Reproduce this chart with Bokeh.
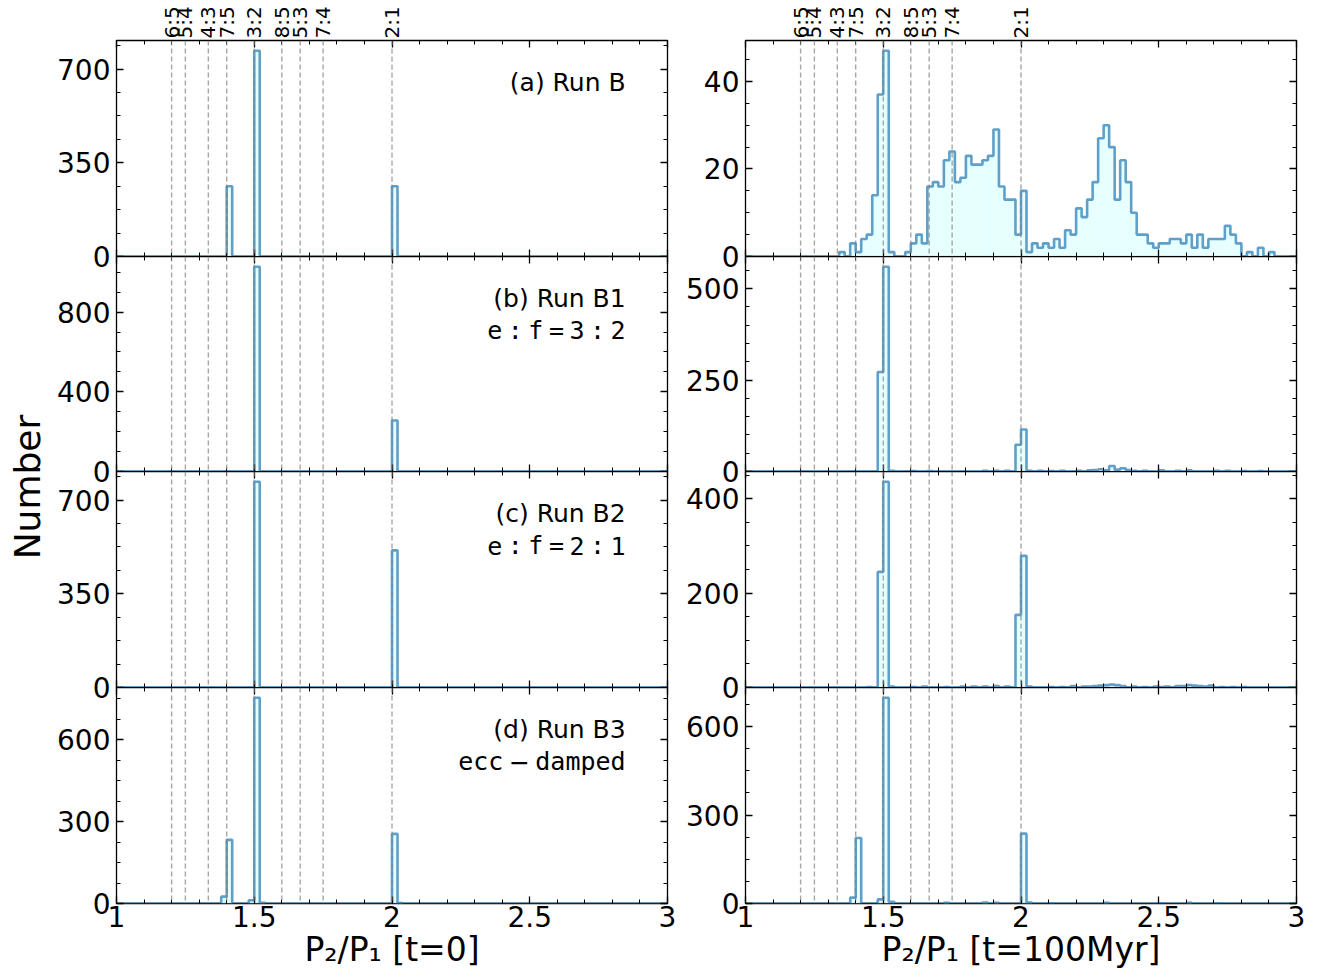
import math
import numpy as np
from bokeh.plotting import figure
from bokeh.models import (Range1d, LinearAxis, FixedTicker, Span, Label,
                          CustomJSTickFormatter)
from bokeh.layouts import row, column
from bokeh.embed import file_html
from bokeh.resources import INLINE

# ---------------- data ----------------
BIN_WIDTH = 0.02
X_START, X_END = 1.0, 3.0

resonance_values = [6 / 5, 5 / 4, 4 / 3, 7 / 5, 3 / 2, 8 / 5, 5 / 3, 7 / 4, 2 / 1]
resonance_labels = ["6:5", "5:4", "4:3", "7:5", "3:2", "8:5", "5:3", "7:4", "2:1"]

x_major_ticks = [1.0, 1.5, 2.0, 2.5, 3.0]
x_minor_ticks = [round(1.0 + 0.1 * i, 1) for i in range(21)]
x_labels = ["P\u2082/P\u2081 [t=0]", "P\u2082/P\u2081 [t=100Myr]"]
y_label = "Number"

# left column (t = 0): left edge of each occupied bin and its count
runB_t0_bins = [1.40, 1.50, 2.00]
runB_t0_counts = [262, 768, 262]
runB1_t0_bins = [1.50, 2.00]
runB1_t0_counts = [1028, 256]
runB2_t0_bins = [1.50, 2.00]
runB2_t0_counts = [768, 512]
runB3_t0_bins = [1.38, 1.40, 1.48, 1.50, 1.52, 2.00, 2.02]
runB3_t0_counts = [25, 233, 12, 753, 3, 255, 2]

# right column (t = 100 Myr)
runB_t100_bins = [1.34, 1.38, 1.40, 1.42, 1.44, 1.46, 1.48, 1.50, 1.52, 1.58,
                  1.60, 1.62, 1.64, 1.66, 1.68, 1.70, 1.72, 1.74, 1.76, 1.78,
                  1.80, 1.82, 1.84, 1.86, 1.88, 1.90, 1.92, 1.94, 1.96, 1.98,
                  2.00, 2.02, 2.04, 2.06, 2.08, 2.10, 2.12, 2.14, 2.16, 2.18,
                  2.20, 2.22, 2.24, 2.26, 2.28, 2.30, 2.32, 2.34, 2.36, 2.38,
                  2.40, 2.42, 2.44, 2.46, 2.48, 2.50, 2.52, 2.54, 2.56, 2.58,
                  2.60, 2.62, 2.64, 2.66, 2.68, 2.70, 2.72, 2.74, 2.76, 2.78,
                  2.82, 2.86, 2.90]
runB_t100_counts = [1, 3, 1, 4, 5, 14, 37, 47, 1, 1,
                    3, 5, 3, 16, 17, 16, 22, 24, 17, 18,
                    23, 21, 21, 22, 23, 29, 16, 13, 13, 5,
                    15, 1, 3, 2, 3, 2, 4, 2, 6, 5,
                    11, 9, 13, 17, 27, 30, 25, 13, 22, 17,
                    10, 5, 5, 3, 2, 3, 3, 4, 4, 3,
                    5, 2, 5, 2, 4, 4, 4, 7, 5, 3,
                    1, 2, 1]
runB1_t100_bins = [1.48, 1.50, 1.52, 1.60, 1.66, 1.86, 1.90, 1.94, 1.98, 2.00,
                   2.02, 2.06, 2.10, 2.14, 2.20, 2.24, 2.26, 2.28, 2.30, 2.32,
                   2.34, 2.36, 2.38, 2.40, 2.44, 2.50, 2.56, 2.60, 2.70, 2.74,
                   2.80, 2.86]
runB1_t100_counts = [272, 560, 2, 1, 1, 2, 2, 2, 73, 115,
                     2, 2, 1, 2, 2, 3, 4, 6, 3, 15,
                     5, 9, 4, 2, 2, 3, 2, 3, 2, 2,
                     1, 1]
runB2_t100_bins = [1.44, 1.48, 1.50, 1.52, 1.60, 1.64, 1.72, 1.78, 1.82, 1.86,
                   1.90, 1.94, 1.98, 2.00, 2.02, 2.10, 2.14, 2.18, 2.22, 2.24,
                   2.26, 2.28, 2.30, 2.32, 2.34, 2.36, 2.40, 2.44, 2.48, 2.50,
                   2.52, 2.56, 2.58, 2.60, 2.62, 2.64, 2.66, 2.68, 2.72, 2.76,
                   2.80]
runB2_t100_counts = [1, 245, 436, 2, 1, 2, 1, 2, 2, 2,
                     3, 2, 154, 279, 2, 1, 1, 3, 2, 2,
                     3, 4, 5, 6, 5, 3, 2, 1, 2, 1,
                     2, 3, 3, 5, 4, 3, 2, 4, 1, 1,
                     1]
runB3_t100_bins = [1.38, 1.40, 1.48, 1.50, 1.52, 1.72, 1.86, 1.90, 2.00, 2.02,
                   2.10, 2.30, 2.50, 2.60, 2.70]
runB3_t100_counts = [20, 222, 14, 698, 6, 2, 3, 2, 237, 3,
                     1, 2, 1, 2, 1]

panels = [
    # (column, row, bins, counts, y major ticks, y minor step, annotation lines)
    (0, 0, runB_t0_bins, runB_t0_counts, [0, 350, 700], 87.5, ["(a) Run B"]),
    (0, 1, runB1_t0_bins, runB1_t0_counts, [0, 400, 800], 100, ["(b) Run B1", "e : f = 3 : 2"]),
    (0, 2, runB2_t0_bins, runB2_t0_counts, [0, 350, 700], 87.5, ["(c) Run B2", "e : f = 2 : 1"]),
    (0, 3, runB3_t0_bins, runB3_t0_counts, [0, 300, 600], 75, ["(d) Run B3", "ecc \u2212 damped"]),
    (1, 0, runB_t100_bins, runB_t100_counts, [0, 20, 40], 5, []),
    (1, 1, runB1_t100_bins, runB1_t100_counts, [0, 250, 500], 50, []),
    (1, 2, runB2_t100_bins, runB2_t100_counts, [0, 200, 400], 50, []),
    (1, 3, runB3_t100_bins, runB3_t100_counts, [0, 300, 600], 75, []),
]

# ---------------- layout / style ----------------
FONT = "DejaVu Sans"
MONO = "DejaVu Sans Mono"
NUM_W = 50
FRAME_W = 551
FRAME_H = [216, 215, 216, 216]
OV = 18
LEFT_BORDER = [66, 68]
RIGHT_BORDER = [10, 25]
EDGE = "#1f77b4"
FILL = "#e0ffff"
ANN_SIZE = 25
MONO_ADV = 0.602 * ANN_SIZE      # DejaVu Sans Mono advance width
MINUS_ADV = 0.838 * ANN_SIZE     # DejaVu Sans minus advance width
TOKEN_GAP = 5.5

edges = np.round(np.arange(0, 101) * BIN_WIDTH + X_START, 2)


def hist_counts(bins, counts):
    full = np.zeros(len(edges) - 1)
    for b, n in zip(bins, counts):
        full[int(round((b - X_START) / BIN_WIDTH))] = n
    return full


def tick_axis(ticker, labels, fmt=None, size="28px", standoff=4):
    ax = LinearAxis(ticker=ticker, axis_line_color=None,
                    major_tick_in=7, major_tick_out=0,
                    minor_tick_in=4, minor_tick_out=0,
                    major_tick_line_color="black", minor_tick_line_color="black",
                    major_tick_line_width=1.3, minor_tick_line_width=1.0,
                    major_label_text_font=FONT, major_label_text_color="black")
    if labels:
        ax.major_label_text_font_size = size
        ax.major_label_standoff = standoff
        if fmt is not None:
            ax.formatter = fmt
    else:
        ax.major_label_text_font_size = "0px"
        ax.major_label_standoff = 0
        ax.formatter = CustomJSTickFormatter(code="return ''")
    return ax


x_fmt = CustomJSTickFormatter(code="return String(tick)")
res_fmt = CustomJSTickFormatter(
    args=dict(vals=resonance_values, labs=resonance_labels),
    code="const i = vals.findIndex(v => Math.abs(v - tick) < 1e-6); return i >= 0 ? labs[i] : '';")

ANN_X = 2.848
ANN_FRAC = [0.806, 0.657]

columns = [[], []]
for ci, ri, bins, counts, ymaj, ystep, texts in panels:
    h = hist_counts(bins, counts)
    ytop = 1.05 * h.max()
    last = ri == 3
    p = figure(frame_width=FRAME_W, frame_height=FRAME_H[ri],
               x_range=Range1d(X_START, X_END), y_range=Range1d(0, ytop),
               x_axis_type=None, y_axis_type=None,
               output_backend="svg", toolbar_location=None,
               min_border_left=LEFT_BORDER[ci], min_border_right=RIGHT_BORDER[ci],
               min_border_top=40 if ri == 0 else 0,
               min_border_bottom=70 if last else OV)
    p.grid.visible = False
    p.background_fill_color = "white"
    p.border_fill_alpha = 0
    p.outline_line_color = "black"
    p.outline_line_width = 1.3
    if ri > 0:
        p.margin = (-OV, 0, 0, 0)

    yminor = list(np.arange(0, ytop, ystep))
    yt = FixedTicker(ticks=ymaj, minor_ticks=yminor)
    xt = FixedTicker(ticks=x_major_ticks, minor_ticks=x_minor_ticks)

    p.add_layout(tick_axis(yt, True, standoff=6), "left")
    p.add_layout(tick_axis(yt, False), "right")
    xb = tick_axis(xt, last, fmt=x_fmt, standoff=2)
    if last:
        xb.axis_label = x_labels[ci]
        xb.axis_label_text_font = FONT
        xb.axis_label_text_font_size = "33px"
        xb.axis_label_text_font_style = "normal"
        xb.axis_label_text_color = "black"
        xb.axis_label_standoff = 0
    p.add_layout(xb, "below")
    p.add_layout(tick_axis(xt, False), "above")
    if ri == 0:
        ra = LinearAxis(ticker=FixedTicker(ticks=resonance_values, minor_ticks=[]),
                        formatter=res_fmt, axis_line_color=None,
                        major_tick_in=0, major_tick_out=0,
                        minor_tick_in=0, minor_tick_out=0,
                        major_label_orientation=math.pi / 2,
                        major_label_text_font=FONT, major_label_text_font_size="20px",
                        major_label_text_color="black", major_label_standoff=2)
        p.add_layout(ra, "above")

    p.quad(left=edges[:-1], right=edges[1:], bottom=0, top=h,
           fill_color=FILL, fill_alpha=0.8, line_color=None)
    p.step(x=edges, y=np.append(h, 0), mode="after",
           line_color=EDGE, line_alpha=0.7, line_width=2.6)

    for r in resonance_values:
        p.add_layout(Span(location=r, dimension="height", line_color="gray",
                          line_alpha=0.7, line_dash="5 3", line_width=1.4))

    for k, t in enumerate(texts):
        if k == 0:
            p.add_layout(Label(x=ANN_X, y=ANN_FRAC[0] * ytop, text=t,
                               text_align="right", text_baseline="middle",
                               text_font=FONT, text_font_size=f"{ANN_SIZE}px",
                               text_color="black"))
        else:
            # typewriter line with math-style (narrow) spacing between tokens
            off = 0.0
            for tok in reversed(t.split(" ")):
                is_minus = tok == "\u2212"
                p.add_layout(Label(x=ANN_X, y=ANN_FRAC[1] * ytop, text=tok,
                                   x_offset=-off,
                                   text_align="right", text_baseline="middle",
                                   text_font=FONT if is_minus else MONO,
                                   text_font_size=f"{ANN_SIZE}px",
                                   text_color="black"))
                off += (MINUS_ADV if is_minus else MONO_ADV * len(tok)) + TOKEN_GAP
    columns[ci].append(p)

num = figure(width=NUM_W, height=973, x_range=Range1d(0, 1), y_range=Range1d(0, 1),
             x_axis_type=None, y_axis_type=None, output_backend="svg",
             toolbar_location=None, min_border=0)
num.grid.visible = False
num.outline_line_color = None
num.add_layout(Label(x=0.54, y=0.5, text=y_label, angle=math.pi / 2,
                     text_align="center", text_baseline="middle",
                     text_font=FONT, text_font_size="36px", text_color="black"))

layout = row(num, column(*columns[0]), column(*columns[1]))
open("out.html", "w").write(file_html(layout, INLINE))
